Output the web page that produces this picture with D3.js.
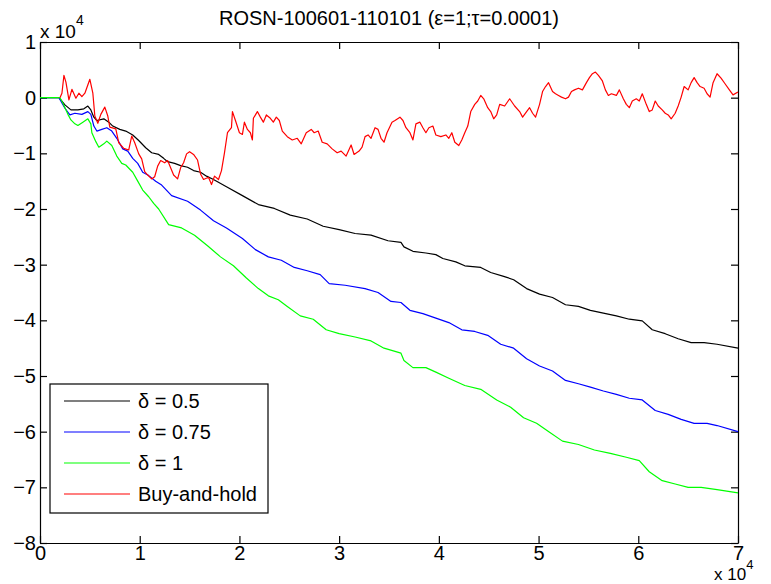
<!DOCTYPE html>
<html>
<head>
<meta charset="utf-8">
<script src="https://cdn.jsdelivr.net/npm/d3@7"></script>
<style>
  body { margin: 0; background: #fff; }
  svg text { font-family: "Liberation Sans", Arial, sans-serif; fill: #000; }
</style>
</head>
<body>
<div id="chart"></div>
<script>
// values are in units of 10^4 (x and y)
var xTicks = [0, 1, 2, 3, 4, 5, 6, 7];
var yTicks = [-8, -7, -6, -5, -4, -3, -2, -1, 0, 1];

var blackX = [0,0.19,0.25,0.31,0.38,0.44,0.48,0.51,0.54,0.57, 0.64,0.69,0.73,0.8,0.86,0.93,0.99,1.06,1.12,1.19, 1.24,1.28,1.35,1.41,1.48,1.54,1.61,1.67,1.74,1.87, 2.03,2.19,2.35,2.51,2.68,2.84,3.0,3.16,3.32,3.49, 3.62,3.65,3.74,3.87,3.97,4.04,4.17,4.26,4.42,4.52, 4.65,4.75,4.88,5.01,5.14,5.27,5.4,5.52,5.65,5.78, 5.91,6.04,6.14,6.27,6.4,6.53,6.66,6.79,7.0];
var blackY = [0,0,-0.13,-0.22,-0.22,-0.2,-0.15,-0.22,-0.35,-0.41, -0.38,-0.44,-0.51,-0.57,-0.6,-0.67,-0.77,-0.9,-0.99,-1.02, -1.09,-1.15,-1.18,-1.22,-1.25,-1.31,-1.34,-1.41,-1.47,-1.6, -1.76,-1.92,-1.99,-2.11,-2.18,-2.31,-2.37,-2.44,-2.47,-2.57, -2.6,-2.68,-2.76,-2.79,-2.82,-2.89,-2.95,-3.02,-3.05,-3.14, -3.21,-3.27,-3.43,-3.53,-3.59,-3.72,-3.75,-3.82,-3.87,-3.92, -3.98,-4.01,-4.17,-4.24,-4.33,-4.4,-4.4,-4.43,-4.5];

var blueX = [0,0.19,0.25,0.3,0.35,0.42,0.48,0.51,0.54,0.57, 0.62,0.67,0.72,0.77,0.83,0.88,0.93,0.98,1.03,1.09, 1.16,1.22,1.32,1.48,1.61,1.74,1.87,2.03,2.16,2.29, 2.42,2.55,2.68,2.81,2.9,3.06,3.26,3.39,3.52,3.62, 3.71,3.84,3.97,4.1,4.23,4.36,4.49,4.62,4.75,4.88, 5.01,5.14,5.27,5.4,5.52,5.65,5.78,5.91,6.04,6.17, 6.3,6.43,6.56,6.69,6.79,7.0];
var blueY = [0,0,-0.19,-0.31,-0.28,-0.3,-0.25,-0.3,-0.51,-0.6, -0.57,-0.54,-0.6,-0.73,-0.92,-0.96,-1.09,-1.18,-1.34,-1.4, -1.5,-1.57,-1.76,-1.86,-2.02,-2.21,-2.34,-2.53,-2.73,-2.86, -2.92,-3.05,-3.11,-3.18,-3.34,-3.37,-3.43,-3.5,-3.66,-3.68, -3.82,-3.88,-3.96,-4.04,-4.17,-4.2,-4.27,-4.43,-4.5,-4.69, -4.82,-4.91,-5.08,-5.14,-5.2,-5.27,-5.33,-5.4,-5.43,-5.62, -5.69,-5.78,-5.85,-5.85,-5.89,-6.0];

var greenX = [0,0.2,0.23,0.28,0.31,0.35,0.38,0.43,0.48,0.51, 0.52,0.56,0.59,0.64,0.67,0.72,0.77,0.82,0.86,0.93, 0.98,1.03,1.09,1.14,1.19,1.29,1.42,1.55,1.68,1.81, 1.94,2.07,2.19,2.29,2.39,2.48,2.61,2.74,2.87,3.0, 3.16,3.32,3.45,3.62,3.65,3.74,3.87,3.97,4.1,4.26, 4.42,4.58,4.72,4.85,4.98,5.11,5.24,5.4,5.56,5.72, 5.88,6.01,6.11,6.24,6.37,6.5,6.63,6.79,7.0];
var greenY = [0,0,-0.1,-0.3,-0.4,-0.47,-0.5,-0.44,-0.38,-0.47, -0.63,-0.79,-0.89,-0.83,-0.78,-0.86,-1.05,-1.18,-1.21,-1.34, -1.5,-1.66,-1.78,-1.9,-2.0,-2.28,-2.34,-2.47,-2.66,-2.86, -3.02,-3.24,-3.43,-3.56,-3.63,-3.75,-3.92,-3.98,-4.17,-4.24, -4.3,-4.37,-4.5,-4.59,-4.72,-4.85,-4.85,-4.93,-5.04,-5.17, -5.24,-5.43,-5.56,-5.75,-5.85,-6.01,-6.17,-6.23,-6.33,-6.39, -6.46,-6.52,-6.72,-6.88,-6.94,-7.0,-7.0,-7.04,-7.1];

var redX = [0.2,0.22,0.24,0.26,0.29,0.32,0.36,0.39,0.42,0.45, 0.5,0.53,0.55,0.58,0.61,0.65,0.68,0.7,0.76,0.79, 0.84,0.89,0.92,0.95,0.99,1.02,1.05,1.08,1.12,1.15, 1.18,1.21,1.25,1.28,1.31,1.34,1.38,1.41,1.44,1.47, 1.5,1.54,1.58,1.61,1.64,1.69,1.72,1.75,1.79,1.82, 1.85,1.88,1.92,1.93,1.96,2.0,2.03,2.05,2.08,2.11, 2.13,2.14,2.18,2.21,2.24,2.27,2.31,2.34,2.37,2.4, 2.43,2.48,2.53,2.58,2.62,2.67,2.72,2.75,2.79,2.83, 2.88,2.93,2.98,3.02,3.07,3.12,3.15,3.2,3.23,3.26, 3.29,3.32,3.36,3.39,3.42,3.45,3.48,3.53,3.56,3.61, 3.64,3.67,3.71,3.74,3.77,3.81,3.84,3.87,3.9,3.94, 3.97,4.02,4.07,4.1,4.13,4.16,4.2,4.23,4.26,4.29, 4.32,4.36,4.39,4.42,4.45,4.49,4.52,4.55,4.58,4.61, 4.66,4.71,4.76,4.81,4.84,4.88,4.91,4.94,4.97,5.01, 5.04,5.07,5.1,5.14,5.17,5.2,5.23,5.27,5.3,5.33, 5.36,5.4,5.44,5.48,5.51,5.54,5.57,5.6,5.64,5.67, 5.7,5.73,5.78,5.81,5.85,5.88,5.91,5.94,5.98,6.01, 6.04,6.08,6.11,6.14,6.17,6.2,6.24,6.27,6.3,6.33, 6.37,6.4,6.43,6.46,6.5,6.53,6.56,6.59,6.62,6.66, 6.69,6.72,6.75,6.79,6.83,6.87,6.91,6.95,7.0];
var redY = [0,0.08,0.4,0.28,-0.04,0.15,-0.01,0.08,0.02,0.08, 0.33,0.08,-0.33,-0.46,-0.3,-0.17,-0.33,-0.53,-0.56,-0.81, -0.91,-0.94,-0.69,-0.81,-1.01,-1.1,-1.33,-1.39,-1.46,-1.42, -1.23,-1.13,-1.17,-1.13,-1.26,-1.39,-1.46,-1.26,-1.17,-1.01, -0.97,-1.02,-1.12,-1.37,-1.47,-1.43,-1.56,-1.41,-1.47,-1.31, -0.99,-0.63,-0.54,-0.25,-0.41,-0.63,-0.66,-0.44,-0.57,-0.63, -0.76,-0.37,-0.25,-0.35,-0.44,-0.31,-0.37,-0.44,-0.35,-0.41, -0.6,-0.7,-0.76,-0.73,-0.83,-0.63,-0.57,-0.63,-0.6,-0.8, -0.83,-0.92,-0.99,-0.96,-1.05,-0.85,-1.02,-0.96,-0.89,-0.7, -0.67,-0.73,-0.54,-0.57,-0.73,-0.8,-0.63,-0.44,-0.41,-0.35, -0.41,-0.54,-0.63,-0.76,-0.47,-0.44,-0.54,-0.63,-0.54,-0.51, -0.67,-0.7,-0.67,-0.73,-0.63,-0.8,-0.86,-0.76,-0.63,-0.51, -0.25,-0.12,-0.06,0.04,-0.02,-0.18,-0.25,-0.38,-0.31,-0.12, -0.15,-0.02,-0.15,-0.25,-0.35,-0.25,-0.18,-0.28,-0.35,-0.12, 0.11,0.2,0.27,0.11,0.07,0.04,0.01,-0.02,0.01,0.11, 0.14,0.17,0.14,0.27,0.36,0.43,0.46,0.4,0.3,0.14, 0.04,0.07,0.04,0.14,-0.02,-0.12,-0.18,-0.06,-0.02,-0.06, 0.07,-0.12,-0.25,-0.22,-0.06,-0.15,-0.22,-0.28,-0.31,-0.38, -0.28,-0.15,0.01,0.2,0.14,0.27,0.36,0.27,0.2,0.17, 0.07,0.01,0.27,0.43,0.35,0.25,0.15,0.05,0.1];

var seriesNames = ["\u03b4 = 0.5", "\u03b4 = 0.75", "\u03b4 = 1", "Buy-and-hold"];
var seriesColors = ["#000000", "#0000ff", "#00ff00", "#ff0000"];
var titleText = "ROSN-100601-110101 (\u03b5=1;\u03c4=0.0001)";

var series = [
  d3.zip(blackX, blackY),
  d3.zip(blueX, blueY),
  d3.zip(greenX, greenY),
  d3.zip(redX, redY)
];

var margin = {top: 42, right: 33, bottom: 41, left: 40},
    width = 771 - margin.left - margin.right,
    height = 584 - margin.top - margin.bottom;

var svg = d3.select("#chart")
  .append("svg")
  .attr("width", 771)
  .attr("height", 584);

var g = svg.append("g")
  .attr("transform", "translate(" + margin.left + "," + margin.top + ")");

var x = d3.scaleLinear().domain([0, 7]).range([0, width]);
var y = d3.scaleLinear().domain([-8, 1]).range([height, 0]);

// axes with inward ticks on all four sides
var fontSize = 20;
g.append("g")
  .attr("class", "axis")
  .attr("transform", "translate(0," + height + ")")
  .call(d3.axisBottom(x).tickValues(xTicks).tickSizeInner(-7).tickSizeOuter(0).tickPadding(3).tickFormat(d3.format("d")));
g.append("g")
  .attr("class", "axis")
  .call(d3.axisTop(x).tickValues(xTicks).tickSizeInner(-7).tickSizeOuter(0).tickFormat(""));
g.append("g")
  .attr("class", "axis")
  .call(d3.axisLeft(y).tickValues(yTicks).tickSizeInner(-7).tickSizeOuter(0).tickPadding(4).tickFormat(d3.format("d")));
g.append("g")
  .attr("class", "axis")
  .attr("transform", "translate(" + width + ",0)")
  .call(d3.axisRight(y).tickValues(yTicks).tickSizeInner(-7).tickSizeOuter(0).tickFormat(""));

g.selectAll(".axis path, .axis line").attr("stroke", "#000").attr("stroke-width", 1.2);
g.selectAll(".axis text").style("font-size", fontSize + "px").attr("fill", "#000");

// lines
var line = d3.line()
  .x(function(d) { return x(d[0]); })
  .y(function(d) { return y(d[1]); });

series.forEach(function(s, i) {
  g.append("path")
    .datum(s)
    .attr("fill", "none")
    .attr("stroke", seriesColors[i])
    .attr("stroke-width", 1.2)
    .attr("stroke-linejoin", "round")
    .attr("d", line);
});

// title and exponent labels
svg.append("text")
  .attr("x", margin.left + width / 2)
  .attr("y", 25)
  .attr("text-anchor", "middle")
  .style("font-size", "20px")
  .text(titleText);

var expTop = svg.append("text").attr("x", 40).attr("y", 38).style("font-size", "19px");
expTop.append("tspan").text("x 10");
expTop.append("tspan").attr("dy", -13).style("font-size", "14px").text("4");

var expBot = svg.append("text").attr("x", 714).attr("y", 580).style("font-size", "17px");
expBot.append("tspan").text("x 10");
expBot.append("tspan").attr("dy", -11).style("font-size", "13px").text("4");

// legend
var legend = g.append("g").attr("transform", "translate(10," + (y(-5) + 8) + ")");
legend.append("rect")
  .attr("width", 218)
  .attr("height", 129)
  .attr("fill", "#fff")
  .attr("stroke", "#000")
  .attr("stroke-width", 1.2);

var items = legend.selectAll(".item")
  .data(seriesNames)
  .enter()
  .append("g")
  .attr("transform", function(d, i) { return "translate(0," + (17 + i * 31) + ")"; });
items.append("line")
  .attr("x1", 14).attr("x2", 80)
  .attr("stroke", function(d, i) { return seriesColors[i]; })
  .attr("stroke-width", 1.2);
items.append("text")
  .attr("x", 88)
  .attr("dy", "0.35em")
  .style("font-size", "20px")
  .text(function(d) { return d; });
</script>
</body>
</html>
